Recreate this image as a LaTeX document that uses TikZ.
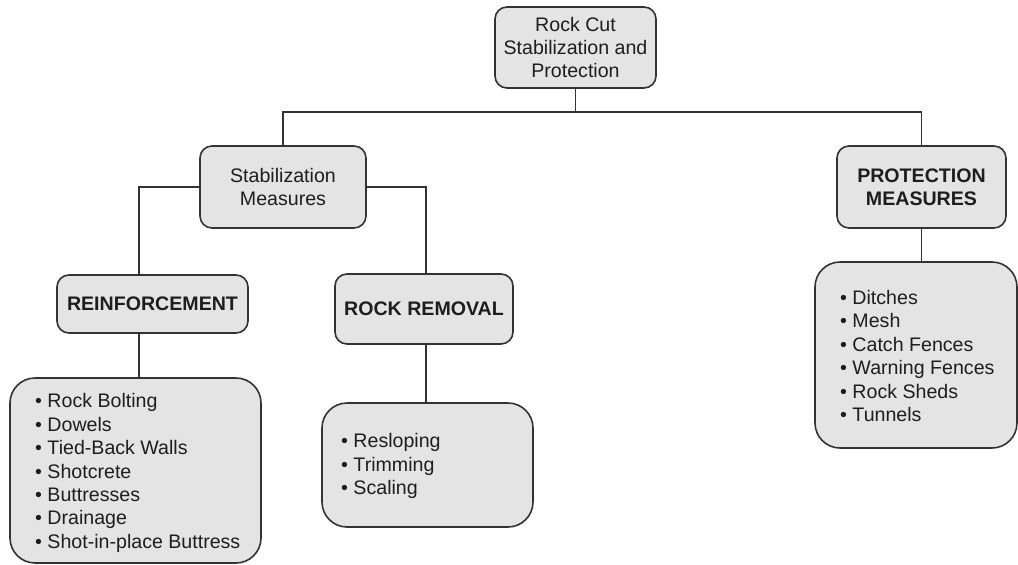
\documentclass[tikz,border=0pt]{standalone}
\usepackage{fontspec}
\setmainfont{Liberation Sans}
\definecolor{edge}{HTML}{333333}
\definecolor{boxfill}{HTML}{E4E4E4}
\definecolor{ink}{HTML}{1E1E1E}
\begin{document}
\begin{tikzpicture}[x=1pt,y=-1pt,
  box/.style={draw=edge, line width=1.6pt, fill=boxfill, rounded corners=12pt,
    inner sep=0pt, align=center, text=ink, font=\fontsize{19.6}{23.4}\selectfont},
  bbox/.style={box, font=\fontsize{19.6}{23.4}\selectfont\bfseries},
  lbox/.style={draw=edge, line width=1.6pt, fill=boxfill, rounded corners=25pt, inner sep=0pt},
  ltext/.style={anchor=west, inner sep=0pt, align=left, text=ink, font=\fontsize{19.6}{23.4}\selectfont},
  conn/.style={draw=edge, line width=1.6pt}]
\useasboundingbox (0,0) rectangle (1018,565);

% main boxes
\node[box, minimum width=161pt, minimum height=81pt] (root) at (575.5,47.5)
  {Rock Cut\\Stabilization and\\Protection};
\node[box, minimum width=166pt, minimum height=82pt] (stab) at (283,187)
  {Stabilization\\Measures};
\node[bbox, minimum width=169pt, minimum height=82pt] (prot) at (921.5,187)
  {PROTECTION\\MEASURES};
\node[bbox, minimum width=191pt, minimum height=58pt] (reinf) at (152.5,304)
  {REINFORCEMENT};
\node[bbox, minimum width=178pt, minimum height=70pt] (rrem) at (424,309)
  {ROCK REMOVAL};

% list boxes
\node[lbox, minimum width=251pt, minimum height=185pt] (rlist) at (135.5,470.5) {};
\node[ltext] (rtext) at (35,473)
  {\textbullet\ Rock Bolting\\\textbullet\ Dowels\\\textbullet\ Tied-Back Walls\\\textbullet\ Shotcrete\\\textbullet\ Buttresses\\\textbullet\ Drainage\\\textbullet\ Shot-in-place Buttress};
\node[lbox, minimum width=211pt, minimum height=124pt] (mlist) at (427.5,465) {};
\node[ltext] (mtext) at (341,466)
  {\textbullet\ Resloping\\\textbullet\ Trimming\\\textbullet\ Scaling};
\node[lbox, minimum width=202pt, minimum height=186pt] (plist) at (916,355) {};
\node[ltext] (ptext) at (840,356)
  {\textbullet\ Ditches\\\textbullet\ Mesh\\\textbullet\ Catch Fences\\\textbullet\ Warning Fences\\\textbullet\ Rock Sheds\\\textbullet\ Tunnels};

% helper coordinates
\coordinate (hl) at (283,112);
\coordinate (rx) at (139,0);
\coordinate (mx) at (426,0);

% connectors
\draw[conn] (root.south) -- (root.south |- hl);
\draw[conn] (stab.north) -- (stab.north |- hl) -- (prot.north |- hl) -- (prot.north);
\draw[conn] (stab.west) -| (rx |- reinf.north);
\draw[conn] (stab.east) -| (mx |- rrem.north);
\draw[conn] (rx |- reinf.south) -- (rx |- rlist.north);
\draw[conn] (mx |- rrem.south) -- (mx |- mlist.north);
\draw[conn] (prot.south) -- (prot.south |- plist.north);
\end{tikzpicture}
\end{document}
